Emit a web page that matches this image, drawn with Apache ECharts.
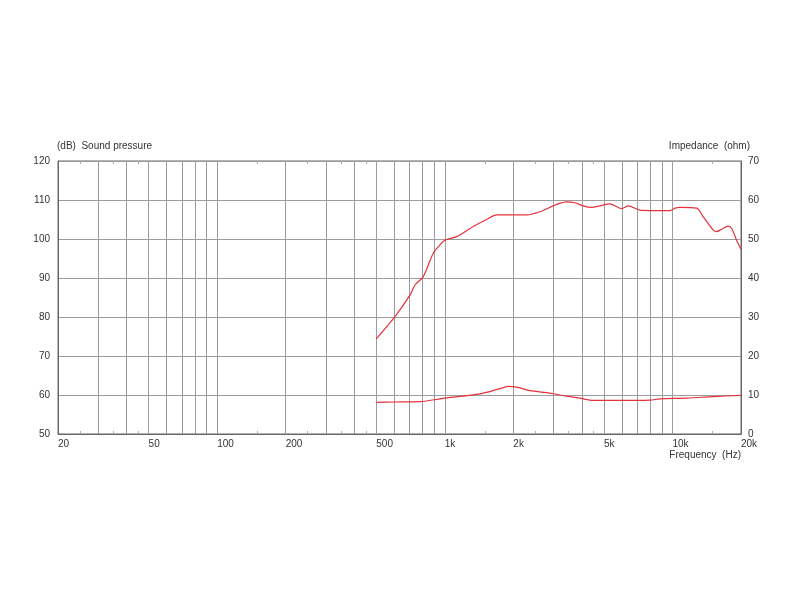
<!DOCTYPE html>
<html><head><meta charset="utf-8">
<script src="https://cdn.jsdelivr.net/npm/echarts@6/dist/echarts.min.js"></script>
<style>html,body{margin:0;padding:0;background:#fff}#c{width:800px;height:600px}</style>
</head><body><div id="c"></div>
<script>
// Frequency grid values (Hz)
const gridFreqs = [20,30,40,50,60,70,80,90,100,200,300,400,500,600,700,800,900,1000,2000,3000,4000,5000,6000,7000,8000,9000,10000,20000];
const labelFreqs = [20,50,100,200,500,1000,2000,5000,10000,20000];
const minorFreqs = [25,35,45,150,250,350,450,1500,2500,3500,4500,15000];
// Sound pressure (dB) vs frequency
const splFreq = [500,604,703,740,803,889,953,1000,1127,1333,1528,1690,2286,2619,2995,3148,3425,3727,4054,4413,4800,5308,5980,6393,7195,7962,9749,10260,10787,12770,13650,15100,15630,16440,17580,18190,19130,20000];
const splDb   = [74.4,80.1,85.6,88.2,90.3,96.3,98.5,99.7,100.6,103.2,105.0,106.2,106.2,107.0,108.5,109.0,109.5,109.3,108.5,108.1,108.5,109.0,107.8,108.5,107.4,107.3,107.3,107.9,108.1,107.9,105.7,102.3,101.9,102.5,103.3,102.7,99.7,97.4];
// Impedance (ohm) vs frequency
const impFreq = [500,600,778,1000,1426,1717,1900,2070,2365,2800,3205,3920,4490,6000,7960,8820,11560,15100,20000];
const impOhm  = [8.1,8.2,8.3,9.2,10.3,11.5,12.2,12.0,11.1,10.6,10.0,9.2,8.6,8.6,8.7,9.0,9.2,9.6,9.9];

const fmtF = v => v >= 1000 ? (v/1000) + 'k' : String(v);
const font = 'Liberation Sans, Arial, sans-serif';
const txt = '#333';
const fs = 10;
const chart = echarts.init(document.getElementById('c'));
chart.setOption({
  animation: false,
  grid: {left: 58, right: 59, top: 161, bottom: 166, show: true, borderColor: '#666', borderWidth: 1},
  xAxis: [{
    type: 'log', logBase: 10, min: 20, max: 20000,
    axisLine: {show: true, lineStyle: {color: '#666'}},
    axisTick: {show: false, customValues: gridFreqs},
    splitLine: {show: true, lineStyle: {color: '#9c9c9c', width: 1}},
    minorTick: {show: false}, minorSplitLine: {show: false},
    axisLabel: {customValues: labelFreqs, formatter: v => fmtF(Math.round(v)), align: 'left', margin: 5,
      color: txt, fontSize: fs, fontFamily: font}
  }, {
    type: 'log', logBase: 10, min: 20, max: 20000, position: 'bottom',
    axisLine: {show: false}, splitLine: {show: false}, axisLabel: {show: false},
    axisTick: {show: true, inside: true, length: 3, customValues: minorFreqs, lineStyle: {color: '#aaa'}}
  }, {
    type: 'log', logBase: 10, min: 20, max: 20000, position: 'top',
    axisLine: {show: false}, splitLine: {show: false}, axisLabel: {show: false},
    axisTick: {show: true, inside: true, length: 3, customValues: minorFreqs, lineStyle: {color: '#aaa'}}
  }],
  yAxis: [{
    type: 'value', min: 50, max: 120, interval: 10,
    axisLine: {show: true, lineStyle: {color: '#666'}}, axisTick: {show: false},
    splitLine: {show: true, lineStyle: {color: '#9c9c9c'}},
    axisLabel: {color: txt, fontSize: fs, fontFamily: font, margin: 8}
  }, {
    type: 'value', min: 0, max: 70, interval: 10, position: 'right',
    axisLine: {show: true, lineStyle: {color: '#666'}}, axisTick: {show: false},
    splitLine: {show: false},
    axisLabel: {color: txt, fontSize: fs, fontFamily: font, margin: 7}
  }],
  series: [{
    type: 'line', xAxisIndex: 0, yAxisIndex: 0, showSymbol: false, smooth: 0.3,
    lineStyle: {color: '#e3323b', width: 1.2},
    data: splFreq.map((f, i) => [f, splDb[i]])
  }, {
    type: 'line', xAxisIndex: 0, yAxisIndex: 1, showSymbol: false, smooth: 0.3,
    lineStyle: {color: '#e3323b', width: 1.2},
    data: impFreq.map((f, i) => [f, impOhm[i]])
  }],
  graphic: [
    {type: 'text', left: 57, top: 141, style: {text: '(dB)  Sound pressure', fill: txt, font: fs + 'px ' + font}},
    {type: 'text', right: 50, top: 141, style: {text: 'Impedance  (ohm)', fill: txt, font: fs + 'px ' + font}},
    {type: 'text', right: 59, top: 450, style: {text: 'Frequency  (Hz)', fill: txt, font: fs + 'px ' + font}}
  ]
});
</script></body></html>
